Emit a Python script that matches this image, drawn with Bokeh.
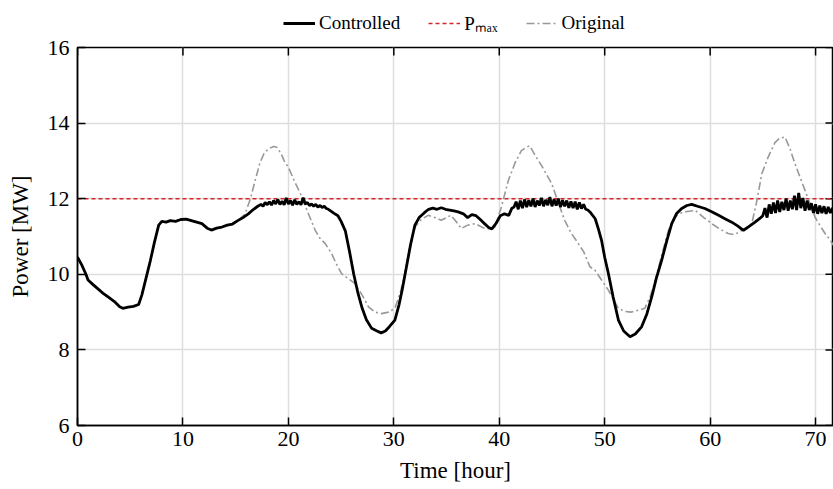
import math
from bokeh.plotting import figure
from bokeh.layouts import column
from bokeh.models import Range1d, Legend, LegendItem, FixedTicker
from bokeh.embed import file_html
from bokeh.resources import INLINE

# ---------------- data ----------------
x_ticks = [0, 10, 20, 30, 40, 50, 60, 70]
y_ticks = [6, 8, 10, 12, 14, 16]
x_end = 71.7
p_max = 12.0
time_span = [0.0, 71.8]

controlled_t = [
    0.0, 0.4, 0.8, 1.0, 1.5, 2.0, 2.5, 3.0, 3.5, 4.0, 4.3, 4.8, 5.3, 5.8, 6.1, 6.5, 6.9, 7.3, 7.7, 8.0,
    8.4, 8.8, 9.3, 9.8, 10.3, 10.8, 11.3, 11.8, 12.3, 12.7, 13.2, 13.7, 14.2, 14.7, 15.2, 15.7, 16.2, 16.7, 17.1,
    17.4, 17.6, 17.8, 18.0, 18.2, 18.4, 18.6, 18.8, 19.0, 19.2, 19.4, 19.6, 19.8, 20.0, 20.2, 20.4, 20.6, 20.8,
    21.0, 21.2, 21.4, 21.6, 21.8, 22.0, 22.2, 22.4, 22.6, 22.8, 23.0, 23.2, 23.4, 23.6, 23.8, 24.0,
    24.3, 24.7, 25.0, 25.4, 25.8, 26.2, 26.6, 27.0, 27.4, 27.9, 28.4, 28.8, 29.2, 29.6, 30.1, 30.5, 30.8, 31.2,
    31.6, 32.0, 32.4, 32.9, 33.3, 33.7, 34.1, 34.5, 34.9, 35.3, 35.7, 36.1, 36.6, 37.0, 37.4, 37.8, 38.2, 38.6,
    39.0, 39.3, 39.7, 40.1, 40.5, 40.9, 41.2,
    41.4, 41.6, 41.8, 42.0, 42.2, 42.4, 42.6, 42.8, 43.0, 43.2, 43.4, 43.6, 43.8, 44.0, 44.2, 44.4, 44.6, 44.8,
    45.0, 45.2, 45.4, 45.6, 45.8, 46.0, 46.2, 46.4, 46.6, 46.8, 47.0, 47.2, 47.4, 47.6, 47.8, 48.0, 48.2, 48.4,
    48.6, 49.1, 49.4, 49.7, 50.0, 50.35, 50.8, 51.3, 51.8, 52.4, 52.9, 53.5, 54.0, 54.46, 54.9, 55.4, 55.9,
    56.36, 56.8, 57.3, 57.8, 58.25, 58.8, 59.5, 60.1, 60.8, 61.4, 62.05, 62.6, 63.16, 63.6, 64.26, 64.8,
    65.0, 65.2, 65.4, 65.6, 65.8, 66.0, 66.2, 66.4, 66.6, 66.8, 67.0, 67.2, 67.4, 67.6, 67.8, 68.0, 68.2, 68.4,
    68.6, 68.8, 69.0, 69.2, 69.4, 69.6, 69.8, 70.0, 70.2, 70.4, 70.6, 70.8, 71.0, 71.2, 71.4, 71.6, 71.8,
]
controlled_p = [
    10.45, 10.25, 10.0, 9.85, 9.72, 9.6, 9.48, 9.38, 9.28, 9.14, 9.1, 9.13, 9.15, 9.2, 9.45, 9.9, 10.35, 10.85, 11.3, 11.4,
    11.38, 11.42, 11.4, 11.45, 11.46, 11.42, 11.38, 11.34, 11.22, 11.17, 11.22, 11.25, 11.3, 11.33, 11.42, 11.5, 11.6, 11.72, 11.8,
    11.85, 11.8, 11.9, 11.84, 11.92, 11.83, 11.95, 11.86, 11.98, 11.85, 11.93, 11.84, 12.02, 11.86, 11.95, 11.83, 11.97, 11.85,
    11.92, 11.84, 12.03, 11.86, 11.9, 11.82, 11.86, 11.8, 11.85, 11.78, 11.82, 11.77, 11.8, 11.74, 11.72, 11.68,
    11.62, 11.55, 11.4, 11.15, 10.6, 10.0, 9.5, 9.1, 8.8, 8.57, 8.5, 8.45, 8.5, 8.62, 8.79, 9.2, 9.6, 10.2,
    10.8, 11.3, 11.5, 11.63, 11.72, 11.75, 11.72, 11.76, 11.72, 11.7, 11.68, 11.65, 11.6, 11.5, 11.58, 11.55, 11.45, 11.34,
    11.24, 11.2, 11.35, 11.55, 11.6, 11.56, 11.75,
    11.78, 11.92, 11.72, 11.95, 11.75, 11.98, 11.78, 11.96, 11.8, 12.0, 11.78, 11.95, 11.82, 12.02, 11.8, 11.97, 11.83, 12.04,
    11.8, 11.98, 11.82, 12.0, 11.78, 11.96, 11.8, 11.95, 11.76, 11.93, 11.75, 11.92, 11.72, 11.9, 11.74, 11.85, 11.72, 11.7,
    11.65, 11.47, 11.2, 10.9, 10.45, 10.02, 9.4, 8.79, 8.5, 8.35, 8.42, 8.61, 8.95, 9.4, 9.9, 10.37, 10.9,
    11.34, 11.6, 11.74, 11.82, 11.85, 11.8, 11.74, 11.66, 11.56, 11.47, 11.38, 11.28, 11.16, 11.25, 11.38, 11.5,
    11.55, 11.75, 11.5, 11.85, 11.6, 11.9, 11.62, 11.95, 11.65, 11.92, 11.7, 12.0, 11.68, 11.95, 11.72, 12.08, 11.7, 12.15,
    11.75, 12.02, 11.68, 11.95, 11.7, 11.88, 11.62, 11.85, 11.6, 11.82, 11.62, 11.8, 11.6, 11.78, 11.62, 11.75, 11.68,
]

original_t = [
    0.0, 0.4, 0.8, 1.0, 1.5, 2.0, 2.5, 3.0, 3.5, 4.0, 4.3, 4.8, 5.3, 5.8, 6.1, 6.5, 6.9, 7.3, 7.7, 8.0,
    8.4, 8.8, 9.3, 9.8, 10.3, 10.8, 11.3, 11.8, 12.3, 12.7, 13.2, 13.7, 14.2, 14.7, 15.2, 15.9,
    16.4, 16.85, 17.3, 17.7, 18.1, 18.6, 18.9, 19.3, 19.6, 20.0, 20.6, 21.3, 21.9, 22.55, 23.0, 23.5, 24.1,
    24.5, 25.05, 25.6, 26.3, 27.0, 27.6, 28.2, 28.84, 29.5, 30.1, 30.6, 31.05, 31.5, 32.0, 32.6, 33.27,
    33.9, 34.5, 35.0, 35.4, 35.9, 36.4, 37.0, 37.7, 38.2, 38.64, 39.1, 39.6, 40.2, 40.86, 41.5, 42.1,
    42.5, 42.9, 43.4, 44.0, 44.97, 45.6, 46.2, 46.8, 47.5, 48.0, 48.6, 49.1, 49.7, 50.35, 50.8, 51.3,
    51.9, 52.5, 53.2, 53.8, 54.3, 54.8, 55.4, 56.04, 56.5, 57.0, 57.8, 58.6, 59.4, 60.15, 60.9, 61.7,
    62.3, 63.0, 63.5, 63.95, 64.4, 64.9, 65.5, 66.16, 66.6, 67.1, 67.6, 68.05, 69.0, 69.95, 70.4, 70.9,
    71.4, 71.8,
]
original_p = [
    10.45, 10.25, 10.0, 9.85, 9.72, 9.6, 9.48, 9.38, 9.28, 9.14, 9.1, 9.13, 9.15, 9.2, 9.45, 9.9, 10.35, 10.85, 11.3, 11.4,
    11.38, 11.42, 11.4, 11.45, 11.46, 11.42, 11.38, 11.34, 11.22, 11.17, 11.22, 11.25, 11.3, 11.33, 11.42, 11.6,
    12.0, 12.48, 12.95, 13.2, 13.32, 13.38, 13.36, 13.2, 13.0, 12.83, 12.45, 12.04, 11.6, 11.16, 10.95, 10.81, 10.55,
    10.3, 10.02, 9.9, 9.76, 9.45, 9.14, 9.0, 8.96, 9.0, 9.1, 9.5, 10.02, 10.7, 11.25, 11.45, 11.56,
    11.5, 11.43, 11.5, 11.56, 11.4, 11.21, 11.3, 11.34, 11.27, 11.21, 11.2, 11.25, 11.78, 12.48, 12.95, 13.27,
    13.35, 13.4, 13.15, 12.88, 12.4, 11.9, 11.43, 11.1, 10.81, 10.6, 10.2, 10.1, 9.85, 9.58, 9.35, 9.1,
    9.02, 9.0, 9.05, 9.1, 9.4, 9.84, 10.5, 11.16, 11.45, 11.6, 11.66, 11.69, 11.5, 11.34, 11.2, 11.08,
    11.05, 11.16, 11.25, 11.34, 11.9, 12.66, 13.1, 13.49, 13.6, 13.63, 13.3, 12.92, 12.22, 11.51, 11.3, 11.08,
    10.9, 10.72,
]

# ---------------- styles ----------------
FONT = "Liberation Serif"
CTRL = dict(line_color="black", line_width=2.8)
PMAX = dict(line_color="#d62728", line_width=1.6, line_dash="4 3")
ORIG = dict(line_color="#999999", line_width=1.6, line_dash="8 3 2 3")

# ---------------- main figure ----------------
p = figure(width=833, height=453, output_backend="svg", toolbar_location=None,
           x_range=Range1d(0, x_end), y_range=Range1d(y_ticks[0], y_ticks[-1]),
           min_border_left=77, min_border_right=0, min_border_top=11, min_border_bottom=64)

p.background_fill_color = "white"
p.border_fill_color = "white"
p.outline_line_color = "black"
p.outline_line_width = 1.5

for g in (p.xgrid, p.ygrid):
    g.grid_line_color = "#dddddd"
    g.grid_line_width = 1.5
p.xgrid.ticker = FixedTicker(ticks=x_ticks)
p.ygrid.ticker = FixedTicker(ticks=y_ticks)

xa = p.xaxis[0]
ya = p.yaxis[0]
xa.ticker = FixedTicker(ticks=x_ticks)
ya.ticker = FixedTicker(ticks=y_ticks)
xa.axis_label = "Time [hour]"
ya.axis_label = "Power [MW]"
for ax in (xa, ya):
    ax.axis_line_color = "black"
    ax.axis_line_width = 1.5
    ax.major_tick_in = 8
    ax.major_tick_out = 0
    ax.major_tick_line_width = 1.5
    ax.major_tick_line_color = "black"
    ax.minor_tick_line_color = None
    ax.major_label_text_font = FONT
    ax.major_label_text_font_size = "22px"
    ax.major_label_text_color = "black"
    ax.axis_label_text_font = FONT
    ax.axis_label_text_font_size = "23px"
    ax.axis_label_text_font_style = "normal"
    ax.axis_label_text_color = "black"
xa.major_label_standoff = 6
xa.axis_label_standoff = 9
ya.major_label_standoff = 8
ya.axis_label_standoff = 12

# inward ticks on the top and right frame edges
p.ray(x=x_ticks, y=[y_ticks[-1]] * len(x_ticks), length=8, length_units="screen",
      angle=-math.pi / 2, line_color="black", line_width=1.5)
p.ray(x=[x_end] * len(y_ticks), y=y_ticks, length=8, length_units="screen",
      angle=math.pi, line_color="black", line_width=1.5)

p.line(time_span, [p_max, p_max], **PMAX)
p.line(original_t, original_p, **ORIG)
p.line(controlled_t, controlled_p, **CTRL)

# ---------------- legend strip ----------------
lg = figure(width=833, height=36, output_backend="svg", toolbar_location=None,
            x_range=Range1d(0, 1), y_range=Range1d(0, 1),
            x_axis_location=None, y_axis_location=None, min_border=0)
lg.outline_line_color = None
lg.grid.visible = False
lg.background_fill_color = "white"
lg.border_fill_color = "white"
# sample renderers kept outside the strip's visible range; only their legend swatches show
l_ctrl = lg.line([5, 6], [5, 6], **CTRL)
l_pmax = lg.line([5, 6], [5, 6], **PMAX)
l_orig = lg.line([5, 6], [5, 6], **ORIG)

legend = Legend(items=[
    LegendItem(label="Controlled", renderers=[l_ctrl]),
    LegendItem(label="Pₘₐₓ", renderers=[l_pmax]),
    LegendItem(label="Original", renderers=[l_orig]),
], orientation="horizontal", location=(206, 0))
legend.label_text_font = FONT
legend.label_text_font_size = "19px"
legend.label_text_color = "black"
legend.glyph_width = 32
legend.label_standoff = 4
legend.spacing = 28
legend.padding = 0
legend.margin = 0
legend.border_line_alpha = 0
legend.background_fill_alpha = 0
lg.add_layout(legend, "center")

layout = column(lg, p, spacing=0)
open("out.html", "w").write(file_html(layout, INLINE))
